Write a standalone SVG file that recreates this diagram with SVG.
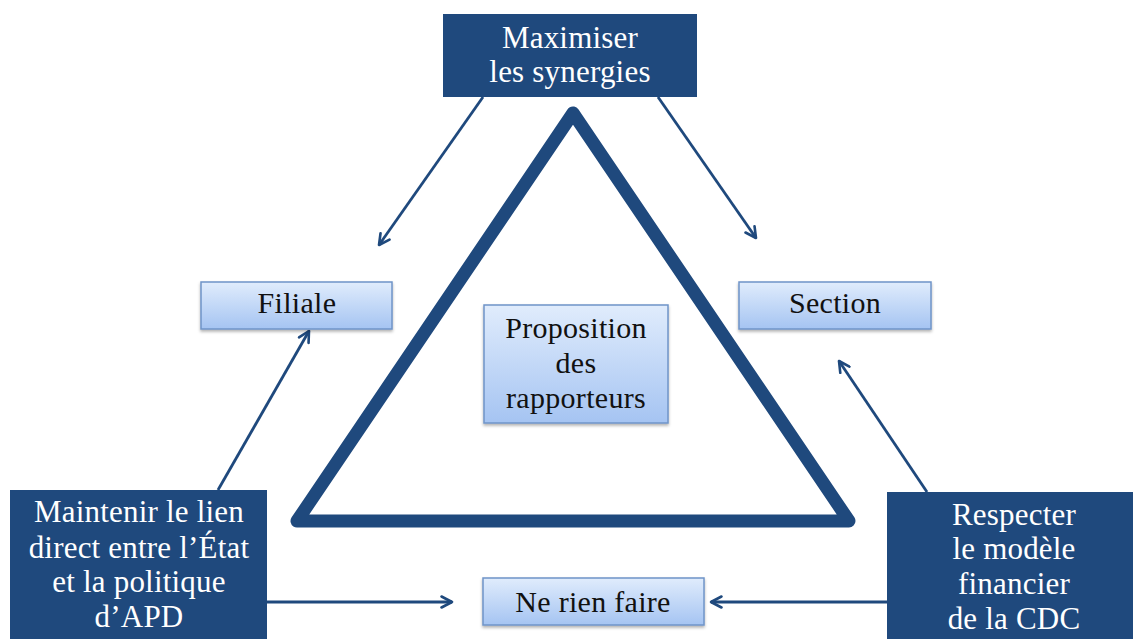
<svg xmlns="http://www.w3.org/2000/svg" width="1133" height="639" viewBox="0 0 1133 639">
<style>
.dark{fill:#1F497D;}
.light{fill:url(#lg);stroke:#6f94c8;stroke-width:1.5;filter:url(#sh);}
.tw{font-family:"Liberation Serif",serif;font-size:31px;fill:#ffffff;text-anchor:middle;letter-spacing:0.2px;}
.tb{font-family:"Liberation Serif",serif;font-size:30px;fill:#111111;text-anchor:middle;letter-spacing:0.3px;}
.con{stroke:#1F497D;stroke-width:2.8;fill:none;marker-end:url(#ah);}
</style>
<defs>
<linearGradient id="lg" x1="0" y1="0" x2="0" y2="1">
<stop offset="0" stop-color="#e0ecfc"/>
<stop offset="1" stop-color="#a5c4f2"/>
</linearGradient>
<filter id="sh" x="-10%" y="-10%" width="120%" height="130%">
<feDropShadow dx="0" dy="2" stdDeviation="1.5" flood-color="#000" flood-opacity="0.3"/>
</filter>
<marker id="ah" viewBox="0 0 14 14" refX="12" refY="7" markerWidth="14" markerHeight="14" markerUnits="userSpaceOnUse" orient="auto">
<path d="M1.5,1.5 L12,7 L1.5,12.5" fill="none" stroke="#1F497D" stroke-width="2.6" stroke-linecap="round" stroke-linejoin="round"/>
</marker>
</defs>
<rect width="1133" height="639" fill="#ffffff"/>
<g id="triangle">
<polygon points="573,113 297,521 849,521" fill="none" stroke="#1F497D" stroke-width="13" stroke-linejoin="round"/>
</g>
<g id="connectors">
<line class="con" x1="483" y1="97" x2="379" y2="245"/>
<line class="con" x1="658" y1="97" x2="756" y2="238"/>
<line class="con" x1="218" y1="490" x2="309" y2="331"/>
<line class="con" x1="927" y1="492" x2="839" y2="361"/>
<line class="con" x1="267" y1="602" x2="452" y2="602"/>
<line class="con" x1="887" y1="602" x2="711" y2="602"/>
</g>
<g id="maximiser">
<rect class="dark" x="443" y="14" width="254" height="83"/>
<text class="tw" x="570" y="48">Maximiser</text>
<text class="tw" x="570" y="82">les synergies</text>
</g>
<g id="filiale">
<rect class="light" x="201" y="282" width="191" height="47"/>
<text class="tb" x="297" y="313">Filiale</text>
</g>
<g id="section">
<rect class="light" x="739" y="282" width="192" height="47"/>
<text class="tb" x="835" y="313">Section</text>
</g>
<g id="proposition">
<rect class="light" x="484" y="305" width="184" height="118"/>
<text class="tb" x="576" y="338">Proposition</text>
<text class="tb" x="576" y="373">des</text>
<text class="tb" x="576" y="408">rapporteurs</text>
</g>
<g id="maintenir">
<rect class="dark" x="10" y="490" width="257" height="149"/>
<text class="tw" x="139" y="522">Maintenir le lien</text>
<text class="tw" x="139" y="558">direct entre l’État</text>
<text class="tw" x="139" y="592">et la politique</text>
<text class="tw" x="139" y="627">d’APD</text>
</g>
<g id="respecter">
<rect class="dark" x="887" y="492" width="246" height="147"/>
<text class="tw" x="1014" y="525">Respecter</text>
<text class="tw" x="1014" y="559">le modèle</text>
<text class="tw" x="1014" y="594">financier</text>
<text class="tw" x="1014" y="629">de la CDC</text>
</g>
<g id="nerien">
<rect class="light" x="483" y="578" width="221" height="47"/>
<text class="tb" x="593" y="612">Ne rien faire</text>
</g>
</svg>
